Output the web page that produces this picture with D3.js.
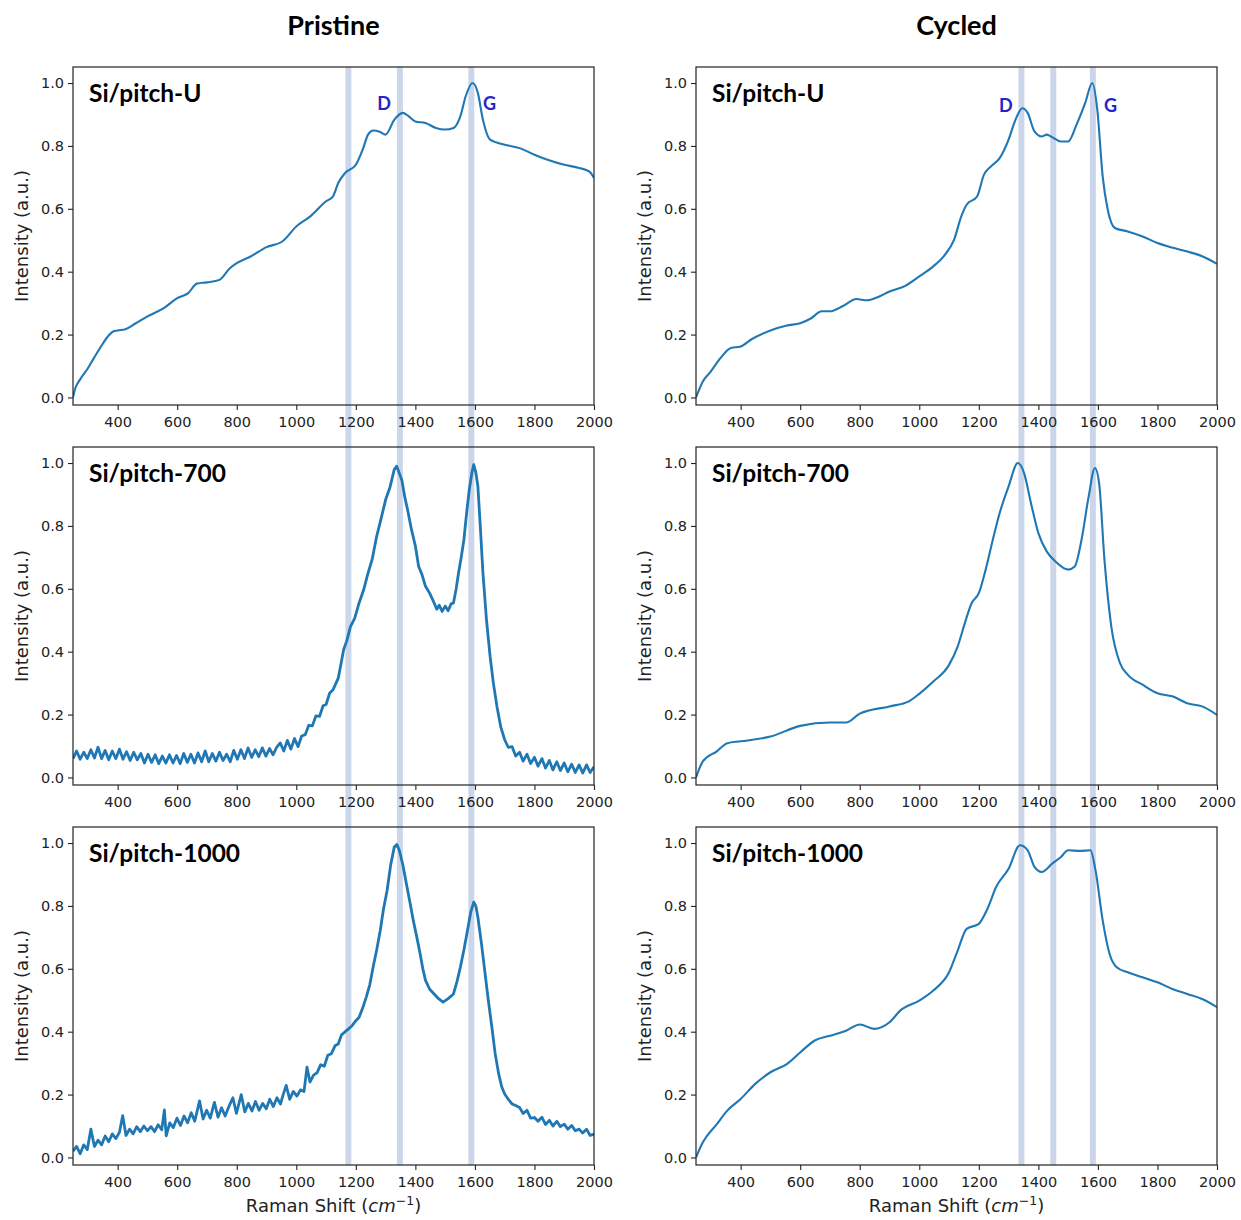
<!DOCTYPE html>
<meta charset="utf-8">
<body style="margin: 0; background: #fff; overflow: hidden">
<script src="https://d3js.org/d3.v7.min.js"></script>
<script>
    // raman spectra, [shift, normalised intensity]
    var pristineU = [[250,0.0],[258,0.03],[273,0.056],[300,0.093],[320,0.125],[344,0.162],[367,0.194],[385,0.21],[400,0.213],[426,0.217],[461,0.236],[500,0.258],[555,0.284],[600,0.316],[637,0.332],[666,0.362],[700,0.366],[742,0.374],[777,0.411],[800,0.427],[848,0.449],[900,0.478],[953,0.496],[1000,0.544],[1047,0.576],[1100,0.624],[1123,0.639],[1141,0.682],[1164,0.714],[1200,0.740],[1223,0.788],[1241,0.836],[1258,0.849],[1280,0.845],[1300,0.836],[1329,0.883],[1358,0.905],[1375,0.896],[1400,0.878],[1434,0.873],[1469,0.857],[1500,0.852],[1528,0.857],[1551,0.894],[1569,0.958],[1592,1.0],[1610,0.968],[1627,0.883],[1651,0.820],[1700,0.804],[1750,0.793],[1800,0.772],[1844,0.756],[1900,0.740],[1950,0.730],[1985,0.718],[2000,0.698]];

    var cycledU = [[250,0.0],[273,0.051],[300,0.083],[332,0.125],[367,0.157],[400,0.162],[438,0.186],[500,0.213],[555,0.229],[600,0.236],[637,0.252],[672,0.274],[700,0.274],[742,0.290],[789,0.313],[824,0.309],[860,0.319],[900,0.337],[953,0.355],[1000,0.385],[1047,0.417],[1082,0.449],[1117,0.502],[1141,0.576],[1159,0.613],[1194,0.639],[1217,0.708],[1241,0.735],[1270,0.761],[1300,0.820],[1323,0.883],[1346,0.920],[1364,0.905],[1387,0.846],[1411,0.830],[1428,0.836],[1446,0.828],[1475,0.814],[1500,0.814],[1528,0.867],[1557,0.936],[1581,1.0],[1598,0.915],[1616,0.703],[1633,0.597],[1657,0.539],[1700,0.528],[1750,0.512],[1800,0.491],[1856,0.475],[1900,0.464],[1950,0.449],[2000,0.425]];

    var pristine700 = [[250,0.060],[262,0.084],[274,0.058],[286,0.080],[298,0.060],[310,0.088],[322,0.062],[334,0.096],[346,0.060],[358,0.086],[370,0.056],[382,0.084],[394,0.060],[406,0.090],[418,0.058],[430,0.082],[442,0.054],[454,0.080],[466,0.056],[478,0.076],[490,0.046],[502,0.074],[514,0.048],[526,0.072],[538,0.044],[550,0.068],[562,0.046],[574,0.072],[586,0.046],[598,0.070],[610,0.044],[622,0.076],[634,0.048],[646,0.074],[658,0.046],[670,0.078],[682,0.050],[694,0.084],[706,0.050],[718,0.076],[730,0.052],[742,0.080],[754,0.054],[766,0.074],[778,0.050],[790,0.086],[802,0.058],[814,0.088],[826,0.060],[838,0.094],[850,0.064],[862,0.088],[874,0.066],[886,0.094],[898,0.068],[910,0.092],[922,0.072],[934,0.096],[946,0.110],[958,0.084],[970,0.118],[982,0.090],[994,0.124],[1006,0.098],[1018,0.132],[1030,0.136],[1042,0.166],[1054,0.164],[1066,0.196],[1078,0.194],[1090,0.228],[1100,0.232],[1112,0.268],[1124,0.280],[1141,0.316],[1150,0.36],[1159,0.406],[1170,0.436],[1182,0.480],[1196,0.506],[1211,0.555],[1226,0.596],[1241,0.650],[1255,0.694],[1270,0.767],[1285,0.824],[1300,0.883],[1315,0.924],[1329,0.979],[1337,0.99],[1346,0.968],[1355,0.944],[1364,0.894],[1375,0.846],[1387,0.788],[1400,0.736],[1411,0.671],[1422,0.646],[1434,0.608],[1448,0.586],[1463,0.555],[1472,0.535],[1480,0.548],[1490,0.528],[1500,0.545],[1510,0.530],[1520,0.552],[1528,0.555],[1537,0.6],[1545,0.650],[1554,0.70],[1563,0.756],[1572,0.84],[1581,0.915],[1590,0.97],[1596,0.995],[1603,0.97],[1610,0.926],[1618,0.80],[1627,0.650],[1639,0.50],[1651,0.385],[1662,0.30],[1674,0.226],[1687,0.16],[1700,0.120],[1712,0.096],[1725,0.098],[1737,0.068],[1750,0.080],[1762,0.052],[1775,0.074],[1787,0.044],[1800,0.064],[1812,0.036],[1825,0.060],[1837,0.030],[1850,0.054],[1862,0.024],[1875,0.050],[1887,0.022],[1900,0.046],[1912,0.018],[1925,0.042],[1937,0.016],[1950,0.040],[1962,0.014],[1975,0.040],[1987,0.016],[2000,0.034]];

    var cycled700 = [[250,0.0],[273,0.051],[320,0.083],[355,0.109],[400,0.115],[500,0.130],[600,0.164],[700,0.175],[754,0.175],[800,0.203],[900,0.226],[965,0.242],[1000,0.266],[1047,0.305],[1100,0.358],[1129,0.417],[1153,0.491],[1176,0.555],[1200,0.586],[1223,0.661],[1247,0.756],[1270,0.841],[1300,0.926],[1331,1.0],[1352,0.968],[1375,0.873],[1400,0.777],[1428,0.719],[1457,0.687],[1500,0.661],[1522,0.671],[1545,0.756],[1569,0.894],[1590,0.984],[1604,0.936],[1622,0.692],[1645,0.480],[1674,0.364],[1700,0.327],[1750,0.295],[1800,0.268],[1850,0.258],[1900,0.236],[1950,0.226],[2000,0.199]];

    var pristine1000 = [[250,0.020],[262,0.035],[274,0.012],[286,0.040],[298,0.025],[310,0.090],[322,0.035],[334,0.055],[346,0.040],[358,0.068],[370,0.050],[382,0.075],[394,0.060],[406,0.080],[417,0.133],[428,0.070],[440,0.090],[452,0.075],[464,0.098],[476,0.082],[488,0.100],[500,0.085],[512,0.098],[524,0.082],[536,0.104],[548,0.088],[557,0.151],[563,0.069],[575,0.110],[587,0.095],[599,0.125],[611,0.102],[623,0.132],[635,0.110],[647,0.142],[659,0.115],[675,0.180],[687,0.122],[699,0.150],[711,0.125],[725,0.175],[737,0.128],[749,0.158],[761,0.132],[775,0.165],[787,0.190],[799,0.140],[815,0.200],[827,0.145],[839,0.172],[851,0.148],[863,0.178],[875,0.150],[887,0.172],[899,0.155],[911,0.185],[923,0.162],[935,0.190],[947,0.170],[956,0.200],[966,0.229],[978,0.185],[990,0.210],[1002,0.195],[1014,0.215],[1026,0.210],[1036,0.287],[1046,0.240],[1058,0.262],[1070,0.270],[1082,0.295],[1094,0.290],[1106,0.325],[1118,0.330],[1130,0.355],[1141,0.361],[1152,0.390],[1164,0.400],[1176,0.409],[1188,0.420],[1200,0.435],[1211,0.446],[1223,0.475],[1235,0.510],[1247,0.550],[1258,0.605],[1270,0.66],[1282,0.722],[1293,0.79],[1305,0.849],[1317,0.93],[1329,0.987],[1338,0.995],[1346,0.977],[1358,0.93],[1370,0.870],[1382,0.81],[1393,0.754],[1405,0.70],[1416,0.648],[1425,0.60],[1434,0.563],[1448,0.535],[1463,0.520],[1478,0.505],[1493,0.494],[1510,0.505],[1528,0.520],[1540,0.56],[1551,0.605],[1563,0.66],[1575,0.722],[1586,0.78],[1596,0.812],[1603,0.80],[1610,0.764],[1622,0.68],[1633,0.594],[1645,0.50],[1657,0.414],[1668,0.33],[1680,0.265],[1690,0.225],[1700,0.202],[1712,0.185],[1725,0.170],[1737,0.165],[1750,0.159],[1762,0.140],[1775,0.150],[1787,0.125],[1800,0.127],[1812,0.115],[1825,0.128],[1837,0.105],[1850,0.118],[1862,0.100],[1875,0.115],[1887,0.098],[1900,0.106],[1912,0.090],[1925,0.102],[1937,0.085],[1950,0.090],[1962,0.078],[1975,0.090],[1987,0.070],[2000,0.074]];

    var cycled1000 = [[250,0.0],[273,0.048],[320,0.106],[355,0.149],[400,0.186],[449,0.234],[500,0.271],[555,0.297],[600,0.334],[649,0.372],[700,0.387],[754,0.403],[800,0.423],[848,0.409],[900,0.430],[936,0.467],[1000,0.499],[1047,0.531],[1100,0.589],[1129,0.658],[1159,0.727],[1200,0.743],[1229,0.791],[1258,0.860],[1300,0.918],[1338,0.993],[1364,0.977],[1387,0.924],[1411,0.908],[1446,0.934],[1475,0.955],[1500,0.977],[1540,0.975],[1575,0.977],[1592,0.913],[1616,0.754],[1639,0.648],[1663,0.605],[1700,0.589],[1750,0.573],[1800,0.557],[1850,0.536],[1900,0.520],[1950,0.504],[2000,0.478]];

    var colTitles = ["Pristine", "Cycled"];
    var rowLabels = ["Si/pitch-U", "Si/pitch-700", "Si/pitch-1000"];
    var pristineBands = [1175, 1348, 1588];
    var cycledBands = [1343, 1450, 1583];
    var xTicks = [400, 600, 800, 1000, 1200, 1400, 1600, 1800, 2000];
    var yTicks = [0.0, 0.2, 0.4, 0.6, 0.8, 1.0];
    var pristineTags = [["D", 1295, 0.915], ["G", 1649, 0.915]];
    var cycledTags = [["D", 1291, 0.909], ["G", 1642, 0.909]];

    var series = [[pristineU, pristine700, pristine1000], [cycledU, cycled700, cycled1000]];
    var noisy = [[false, true, true], [false, false, false]];
    var bands = [pristineBands, cycledBands];
    var tags = [pristineTags, cycledTags];

    var W = 1241, H = 1220;
    var colLeft = [73, 696], plotW = 521;
    var rowTop = [67, 447, 827], plotH = 338;
    var blue = "#1f77b4", ink = "#222";

    var svg = d3.select("body").append("svg")
        .attr("width", W).attr("height", H)
        .style("font-family", "'DejaVu Sans', sans-serif");

    var x = d3.scaleLinear().domain([250, 2000]).range([0, plotW]);
    var y = d3.scaleLinear().domain([-0.024, 1.051]).range([plotH, 0]);

    for (var c = 0; c < 2; c++) {
        var col = svg.append("g").attr("transform", "translate(" + colLeft[c] + ",0)");

        // shaded bands run straight through all three rows
        col.selectAll("rect.band").data(bands[c]).enter().append("rect")
            .attr("class", "band")
            .attr("x", function (d) { return x(d - 10); })
            .attr("width", function (d) { return x(d + 10) - x(d - 10); })
            .attr("y", rowTop[0])
            .attr("height", rowTop[2] + plotH - rowTop[0])
            .attr("fill", "#cbd6eb");

        col.append("text")
            .attr("x", plotW / 2).attr("y", 35)
            .attr("text-anchor", "middle")
            .style("font-family", "Lato, sans-serif")
            .style("font-weight", "bold")
            .style("font-size", "27px")
            .attr("fill", "#000")
            .text(colTitles[c]);

        for (var r = 0; r < 3; r++) {
            var g = col.append("g").attr("transform", "translate(0," + rowTop[r] + ")");
            var clipId = "clip" + c + r;
            g.append("clipPath").attr("id", clipId)
                .append("rect").attr("width", plotW).attr("height", plotH);

            var line = d3.line()
                .x(function (d) { return x(d[0]); })
                .y(function (d) { return y(d[1]); })
                .curve(noisy[c][r] ? d3.curveLinear : d3.curveMonotoneX);

            g.append("path")
                .datum(series[c][r])
                .attr("clip-path", "url(#" + clipId + ")")
                .attr("d", line)
                .attr("fill", "none")
                .attr("stroke", blue)
                .attr("stroke-width", noisy[c][r] ? 2.8 : 2.1)
                .attr("stroke-linejoin", "round");

            var xa = g.append("g").attr("transform", "translate(0," + plotH + ")")
                .call(d3.axisBottom(x).tickValues(xTicks).tickSize(5).tickPadding(7).tickFormat(d3.format("d")));
            var ya = g.append("g")
                .call(d3.axisLeft(y).tickValues(yTicks).tickSize(5).tickPadding(4).tickFormat(d3.format(".1f")));
            [xa, ya].forEach(function (a) {
                a.select(".domain").remove();
                a.selectAll("line").attr("stroke", ink).attr("stroke-width", 1.1);
                a.selectAll("text").attr("fill", ink)
                    .style("font-family", "'DejaVu Sans', sans-serif").style("font-size", "14.5px");
            });

            g.append("rect")
                .attr("width", plotW).attr("height", plotH)
                .attr("fill", "none").attr("stroke", ink).attr("stroke-width", 1.2);

            g.append("text")
                .attr("x", 16).attr("y", 34.5)
                .style("font-family", "Lato, sans-serif")
                .style("font-weight", "bold")
                .style("font-size", "24.5px")
                .attr("fill", "#000")
                .text(rowLabels[r]);

            g.append("text")
                .attr("transform", "translate(-45," + plotH / 2 + ") rotate(-90)")
                .attr("text-anchor", "middle")
                .style("font-size", "18px")
                .attr("fill", ink)
                .text("Intensity (a.u.)");

            if (r == 0) {
                g.selectAll("text.tag").data(tags[c]).enter().append("text")
                    .attr("class", "tag")
                    .attr("x", function (d) { return x(d[1]); })
                    .attr("y", function (d) { return y(d[2]); })
                    .attr("text-anchor", "middle")
                    .style("font-family", "Lato, sans-serif")
                    .style("font-weight", "bold")
                    .style("font-size", "18px")
                    .attr("fill", "#2424c8")
                    .text(function (d) { return d[0]; });
            }

            if (r == 2) {
                var xl = g.append("text")
                    .attr("x", plotW / 2).attr("y", plotH + 47)
                    .attr("text-anchor", "middle")
                    .style("font-size", "18px")
                    .attr("fill", ink);
                xl.append("tspan").text("Raman Shift (");
                xl.append("tspan").style("font-style", "italic").text("cm");
                xl.append("tspan").attr("dy", -7).style("font-size", "12.5px").text("\u22121");
                xl.append("tspan").attr("dy", 7).text(")");
            }
        }
    }
</script>
